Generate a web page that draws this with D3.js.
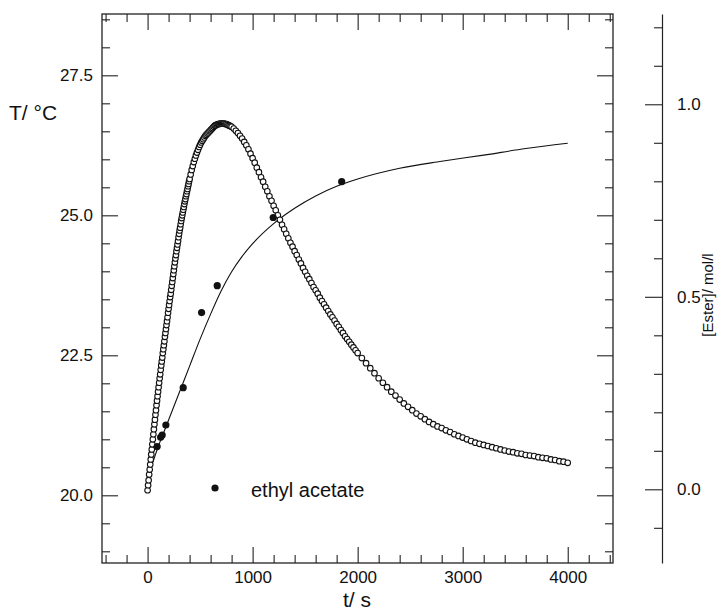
<!DOCTYPE html>
<html>
<head>
<meta charset="utf-8">
<script src="https://cdn.jsdelivr.net/npm/d3@7"></script>
<style>
body { margin: 0; background: #fff; }
text { font-family: "Liberation Sans", Arial, sans-serif; fill: #111; }
</style>
</head>
<body>
<div id="chart"></div>
<script>

// temperature log, [t in s, T in °C]
var tempSeries = [
	[0,20.09],[5,20.18],[10,20.27],[15,20.37],[20,20.46],[25,20.55],[30,20.64],[35,20.73],[40,20.82],[45,20.91],
	[50,21.00],[55,21.09],[60,21.18],[65,21.27],[70,21.35],[75,21.44],[80,21.52],[85,21.61],[90,21.69],[95,21.77],
	[100,21.85],[105,21.93],[110,22.01],[115,22.09],[120,22.16],[125,22.24],[130,22.32],[135,22.39],[140,22.46],[145,22.54],
	[150,22.61],[155,22.68],[160,22.75],[165,22.83],[170,22.90],[175,22.97],[180,23.04],[185,23.11],[190,23.18],[195,23.26],
	[200,23.33],[205,23.40],[210,23.47],[215,23.54],[220,23.60],[225,23.67],[230,23.74],[235,23.81],[240,23.88],[245,23.95],
	[250,24.02],[255,24.09],[260,24.16],[265,24.23],[270,24.29],[275,24.36],[280,24.42],[285,24.48],[290,24.54],[295,24.61],
	[300,24.67],[305,24.73],[310,24.78],[315,24.84],[320,24.90],[325,24.95],[330,25.00],[335,25.05],[340,25.10],[345,25.15],
	[350,25.20],[355,25.25],[360,25.29],[365,25.34],[370,25.38],[375,25.43],[380,25.47],[385,25.52],[390,25.56],[395,25.61],
	[400,25.65],[410,25.73],[420,25.81],[430,25.88],[440,25.95],[450,26.01],[460,26.07],[470,26.12],[480,26.17],[490,26.22],
	[500,26.26],[510,26.30],[520,26.33],[530,26.36],[540,26.39],[550,26.42],[560,26.44],[570,26.46],[580,26.48],[590,26.50],
	[600,26.52],[610,26.54],[620,26.56],[630,26.58],[640,26.60],[650,26.61],[660,26.62],[670,26.63],[680,26.63],[690,26.64],
	[700,26.64],[710,26.64],[720,26.64],[730,26.64],[740,26.63],[750,26.63],[760,26.62],[770,26.61],[780,26.60],[790,26.59],
	[800,26.58],[820,26.55],[840,26.51],[860,26.47],[880,26.42],[900,26.37],[920,26.31],[940,26.25],[960,26.18],[980,26.10],
	[1000,26.02],[1020,25.94],[1040,25.85],[1060,25.77],[1080,25.68],[1100,25.60],[1120,25.51],[1140,25.43],[1160,25.34],[1180,25.26],
	[1200,25.17],[1220,25.09],[1240,25.00],[1260,24.92],[1280,24.83],[1300,24.75],[1320,24.67],[1340,24.59],[1360,24.51],[1380,24.44],
	[1400,24.36],[1420,24.29],[1440,24.21],[1460,24.14],[1480,24.06],[1500,23.99],[1520,23.92],[1540,23.86],[1560,23.79],[1580,23.72],
	[1600,23.66],[1620,23.60],[1640,23.53],[1660,23.47],[1680,23.41],[1700,23.35],[1720,23.29],[1740,23.23],[1760,23.18],[1780,23.12],
	[1800,23.06],[1820,23.01],[1840,22.95],[1860,22.90],[1880,22.84],[1900,22.79],[1920,22.74],[1940,22.69],[1960,22.64],[1980,22.59],
	[2000,22.54],[2040,22.45],[2080,22.36],[2120,22.27],[2160,22.18],[2200,22.09],[2240,22.01],[2280,21.93],[2320,21.85],[2360,21.78],
	[2400,21.71],[2440,21.64],[2480,21.58],[2520,21.52],[2560,21.46],[2600,21.41],[2640,21.36],[2680,21.31],[2720,21.27],[2760,21.23],
	[2800,21.20],[2840,21.16],[2880,21.13],[2920,21.09],[2960,21.06],[3000,21.03],[3040,21.00],[3080,20.97],[3120,20.94],[3160,20.92],
	[3200,20.90],[3240,20.88],[3280,20.86],[3320,20.84],[3360,20.82],[3400,20.80],[3440,20.78],[3480,20.77],[3520,20.75],[3560,20.74],
	[3600,20.72],[3640,20.71],[3680,20.70],[3720,20.68],[3760,20.67],[3800,20.66],[3840,20.64],[3880,20.63],[3920,20.61],[3960,20.60],
	[4000,20.58]
];

// ethyl acetate concentration, measured
var esterTime = [91, 124, 139, 174, 339, 514, 663, 1196, 1848];
var esterConc = [0.111, 0.135, 0.141, 0.167, 0.264, 0.459, 0.529, 0.706, 0.799];

// fitted curve through the ester points
var fitTime = [0, 50, 100, 150, 200, 300, 400, 500, 600, 700, 800, 900, 1000, 1200, 1400, 1600, 1800, 2000, 2400, 2800, 3200, 3600, 4000];
var fitConc = [0.025, 0.07, 0.11, 0.145, 0.18, 0.25, 0.32, 0.39, 0.455, 0.515, 0.565, 0.605, 0.638, 0.69, 0.73, 0.762, 0.787, 0.806, 0.834, 0.852, 0.868, 0.885, 0.899];

var xMajor = [0, 1000, 2000, 3000, 4000];
var xMinor = [-400, -200, 200, 400, 600, 800, 1200, 1400, 1600, 1800, 2200, 2400, 2600, 2800, 3200, 3400, 3600, 3800, 4200, 4400];
var tMajor = [20.0, 22.5, 25.0, 27.5];
var tMinor = [19.0, 19.5, 20.5, 21.0, 21.5, 22.0, 23.0, 23.5, 24.0, 24.5, 25.5, 26.0, 26.5, 27.0, 28.0, 28.5];
var cMajor = [0.0, 0.5, 1.0];
var cMinor = [-0.1, 0.1, 0.2, 0.3, 0.4, 0.6, 0.7, 0.8, 0.9, 1.1, 1.2];

var plotLeft = 102, plotRight = 613, plotTop = 14, plotBottom = 563;

var svg = d3.select('#chart')
	.append('svg')
	.attr('width', 721)
	.attr('height', 613);

var x = d3.scaleLinear().domain([-434, 4431]).range([plotLeft, plotRight]);
var yT = d3.scaleLinear().domain([18.791, 28.595]).range([plotBottom, plotTop]);
var yC = d3.scaleLinear().domain([-0.1914, 1.2345]).range([plotBottom, plotTop]);

function styleAxis(g) {
	g.selectAll('.tick line').attr('stroke', '#222').attr('stroke-width', 1.1);
	g.selectAll('.domain').attr('stroke', '#222').attr('stroke-width', 1.2);
	g.selectAll('text')
		.attr('font-size', 17)
		.attr('font-family', '"Liberation Sans", Arial, sans-serif')
		.attr('fill', '#111');
}

function addTicks(transform, axis, keepDomain) {
	var g = svg.append('g').attr('transform', transform).call(axis);
	if (!keepDomain) g.select('.domain').remove();
	styleAxis(g);
	return g;
}

// left T axis (ticks inside)
addTicks('translate(' + plotLeft + ',0)',
	d3.axisLeft(yT).tickValues(tMajor).tickSizeInner(-16).tickSizeOuter(0).tickPadding(9).tickFormat(d3.format('.1f')));
addTicks('translate(' + plotLeft + ',0)',
	d3.axisLeft(yT).tickValues(tMinor).tickSizeInner(-8).tickSizeOuter(0).tickFormat(''));

// right edge of the frame mirrors the T ticks
addTicks('translate(' + plotRight + ',0)',
	d3.axisRight(yT).tickValues(tMajor).tickSizeInner(-16).tickSizeOuter(0).tickFormat(''));
addTicks('translate(' + plotRight + ',0)',
	d3.axisRight(yT).tickValues(tMinor).tickSizeInner(-8).tickSizeOuter(0).tickFormat(''));

// bottom time axis
addTicks('translate(0,' + plotBottom + ')',
	d3.axisBottom(x).tickValues(xMajor).tickSizeInner(-16).tickSizeOuter(0).tickPadding(8).tickFormat(d3.format('d')));
addTicks('translate(0,' + plotBottom + ')',
	d3.axisBottom(x).tickValues(xMinor).tickSizeInner(-8).tickSizeOuter(0).tickFormat(''));

// top edge
addTicks('translate(0,' + plotTop + ')',
	d3.axisTop(x).tickValues(xMajor).tickSizeInner(-16).tickSizeOuter(0).tickFormat(''));
addTicks('translate(0,' + plotTop + ')',
	d3.axisTop(x).tickValues(xMinor).tickSizeInner(-8).tickSizeOuter(0).tickFormat(''));

svg.append('rect')
	.attr('x', plotLeft)
	.attr('y', plotTop)
	.attr('width', plotRight - plotLeft)
	.attr('height', plotBottom - plotTop)
	.attr('fill', 'none')
	.attr('stroke', '#222')
	.attr('stroke-width', 1.3);

// separate concentration axis
addTicks('translate(662,0)',
	d3.axisRight(yC).tickValues(cMajor).tickSizeInner(-17).tickSizeOuter(0).tickPadding(15).tickFormat(d3.format('.1f')), true);
addTicks('translate(662,0)',
	d3.axisRight(yC).tickValues(cMinor).tickSizeInner(-8).tickSizeOuter(0).tickFormat(''));

// fitted ester line
var fitLine = d3.line()
	.x(function(d, i) { return x(fitTime[i]); })
	.y(function(d) { return yC(d); })
	.curve(d3.curveMonotoneX);

svg.append('path')
	.datum(fitConc)
	.attr('d', fitLine)
	.attr('fill', 'none')
	.attr('stroke', '#111')
	.attr('stroke-width', 1.1);

// temperature points, open circles
svg.append('g')
	.selectAll('circle')
	.data(tempSeries)
	.enter()
	.append('circle')
	.attr('cx', function(d) { return x(d[0]); })
	.attr('cy', function(d) { return yT(d[1]); })
	.attr('r', 2.8)
	.attr('fill', '#fff')
	.attr('stroke', '#111')
	.attr('stroke-width', 1.1);

// ester points
svg.append('g')
	.selectAll('circle')
	.data(esterConc)
	.enter()
	.append('circle')
	.attr('cx', function(d, i) { return x(esterTime[i]); })
	.attr('cy', function(d) { return yC(d); })
	.attr('r', 3.6)
	.attr('fill', '#111');

// legend
svg.append('circle').attr('cx', 215).attr('cy', 488).attr('r', 3.6).attr('fill', '#111');
svg.append('text').attr('x', 251).attr('y', 497).attr('font-size', 20).text('ethyl acetate');

// axis titles
svg.append('text').attr('x', 9).attr('y', 120).attr('font-size', 21).text('T/ °C');
svg.append('text').attr('x', 357).attr('y', 607).attr('font-size', 21).attr('text-anchor', 'middle').text('t/ s');
svg.append('text')
	.attr('transform', 'translate(713,295) rotate(-90)')
	.attr('font-size', 15)
	.attr('text-anchor', 'middle')
	.text('[Ester]/ mol/l');

</script>
</body>
</html>
